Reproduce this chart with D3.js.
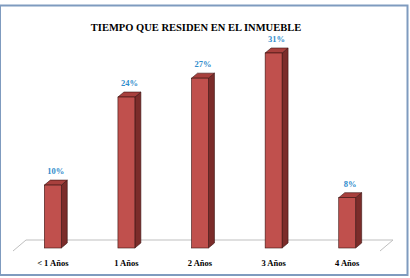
<!DOCTYPE html>
<html>
<head>
<meta charset="utf-8">
<script src="https://cdn.jsdelivr.net/npm/d3@7"></script>
<style>
  body { margin: 0; background: #fff; }
  svg { display: block; }
  text { font-family: "Liberation Serif", "Times New Roman", "DejaVu Serif", serif; font-weight: bold; }
</style>
</head>
<body>
<div id="chart"></div>
<script>
const categories = ["< 1 Años", "1 Años", "2 Años", "3 Años", "4 Años"];
const values = [10, 24, 27, 31, 8];
const valueLabels = ["10%", "24%", "27%", "31%", "8%"];
const title = "TIEMPO QUE RESIDEN EN EL INMUEBLE";

const W = 410, H = 278;
const depthX = 6, depthY = 5;

let svg = d3.select("#chart")
    .append("svg")
    .attr("width", W)
    .attr("height", H);

// outer frame
svg.append("rect")
    .attr("x", 0).attr("y", 5.5)
    .attr("width", 407.5).attr("height", 269.5)
    .attr("fill", "#fff")
    .attr("stroke", "#7f9bbf")
    .attr("stroke-width", 2);

svg.append("text")
    .attr("x", 196).attr("y", 31)
    .attr("text-anchor", "middle")
    .attr("font-size", 10.5)
    .attr("fill", "#000")
    .text(title);

let x = d3.scaleBand()
    .domain(categories)
    .range([16, 384])
    .paddingInner(0.77)
    .paddingOuter(0.385);

let y = d3.scaleLinear()
    .domain([0, 31])
    .range([248, 53]);

// floor (3D base)
let floorBack = 240, floorFront = 251;
svg.append("path")
    .attr("d", `M13,${floorFront} L26,${floorBack} L393,${floorBack} L380,${floorFront}`)
    .attr("fill", "none")
    .attr("stroke", "#bfbfbf")
    .attr("stroke-width", 1);

let bars = svg.append("g")
    .selectAll("g")
    .data(values)
    .enter()
    .append("g");

let bw = x.bandwidth();

// side face
bars.append("path")
    .attr("d", (d, i) => {
        let x1 = x(categories[i]) + bw, y0 = y(0), y1 = y(d);
        return `M${x1},${y0} L${x1 + depthX},${y0 - depthY} L${x1 + depthX},${y1 - depthY} L${x1},${y1} Z`;
    })
    .attr("fill", "#7b2c2a")
    .attr("stroke", "#3a1210")
    .attr("stroke-width", 0.6);

// top face
bars.append("path")
    .attr("d", (d, i) => {
        let x0 = x(categories[i]), y1 = y(d);
        return `M${x0},${y1} L${x0 + depthX},${y1 - depthY} L${x0 + bw + depthX},${y1 - depthY} L${x0 + bw},${y1} Z`;
    })
    .attr("fill", "#a8403d")
    .attr("stroke", "#3a1210")
    .attr("stroke-width", 0.6);

// front face
bars.append("rect")
    .attr("x", (d, i) => x(categories[i]))
    .attr("y", d => y(d))
    .attr("width", bw)
    .attr("height", d => y(0) - y(d))
    .attr("fill", "#c0504d")
    .attr("stroke", "#3a1210")
    .attr("stroke-width", 0.6);

bars.append("text")
    .attr("x", (d, i) => x(categories[i]) + bw / 2 + 3)
    .attr("y", d => y(d) - 11)
    .attr("text-anchor", "middle")
    .attr("font-size", 8.5)
    .attr("fill", "#2f8ccc")
    .text((d, i) => valueLabels[i]);

svg.append("g")
    .selectAll("text")
    .data(categories)
    .enter()
    .append("text")
    .attr("x", d => x(d) + bw / 2)
    .attr("y", 266)
    .attr("text-anchor", "middle")
    .attr("font-size", 8.5)
    .attr("fill", "#000")
    .text(d => d);
</script>
</body>
</html>
